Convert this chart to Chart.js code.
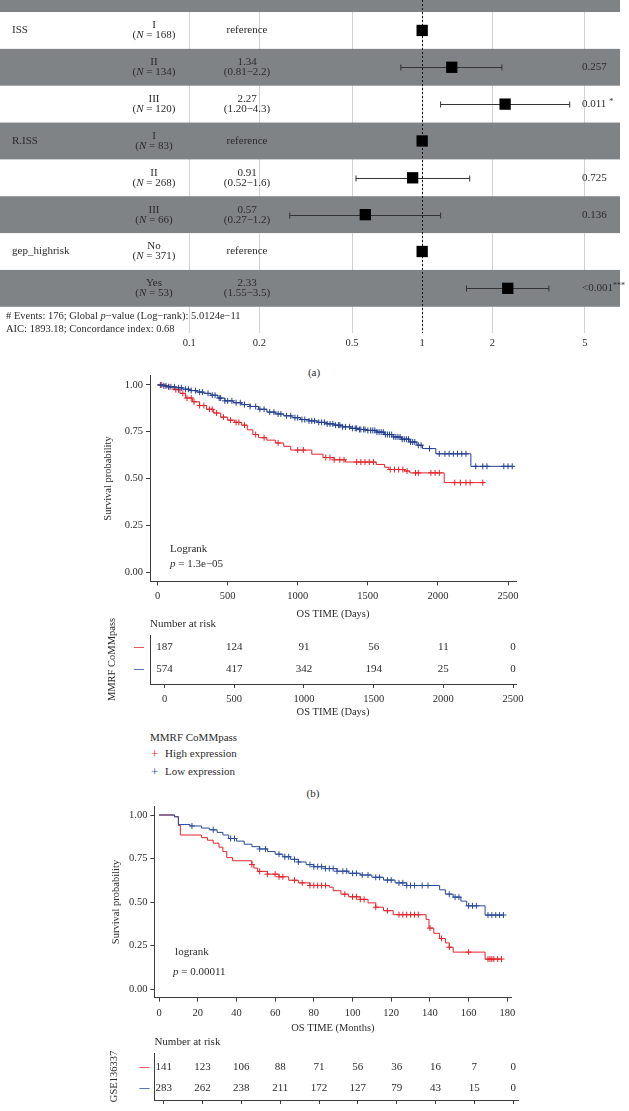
<!DOCTYPE html>
<html>
<head>
<meta charset="utf-8">
<script src="https://cdn.jsdelivr.net/npm/chart.js@4.4.0/dist/chart.umd.min.js"></script>
<style>
html, body { margin: 0; padding: 0; background: #fff; }
body { width: 629px; height: 1111px; position: relative; overflow: hidden;
       font-family: "Liberation Serif", "DejaVu Serif", serif; color: #2b2b2b; }
canvas { position: absolute; left: 0; }
.t { position: absolute; white-space: nowrap; font-size: 11px; line-height: 1; }
.c { transform: translate(-50%, -50%); }
.l { transform: translate(0, -50%); }
</style>
</head>
<body>
<canvas id="forest" width="629" height="360" style="top:0px"></canvas>
<div class="t c" style="left:314px;top:372px">(a)</div>

<canvas id="kmB" width="629" height="262" style="top:360px"></canvas>
<canvas id="riskB" width="629" height="106" style="top:614px"></canvas>
<div class="t l" style="left:150px;top:737px">MMRF CoMMpass</div>
<div class="t l" style="left:151px;top:753px;color:#e3232b;font-size:13px">+</div>
<div class="t l" style="left:165px;top:753px">High expression</div>
<div class="t l" style="left:151px;top:771px;color:#2a4b9b;font-size:13px">+</div>
<div class="t l" style="left:165px;top:771px">Low expression</div>
<div class="t c" style="left:313px;top:793px">(b)</div>

<canvas id="kmC" width="629" height="240" style="top:796px"></canvas>
<canvas id="riskC" width="629" height="109" style="top:1032px"></canvas>

<script>
// ---------- (a) forest plot ----------
const forestVars = ['ISS', '', '', 'R.ISS', '', '', 'gep_highrisk', ''];
const forestLevels = ['I', 'II', 'III', 'I', 'II', 'III', 'No', 'Yes'];
const forestN = [168, 134, 120, 83, 268, 66, 371, 53];
const forestHR = [1, 1.34, 2.27, 1, 0.91, 0.57, 1, 2.33];
const forestLo = [null, 0.81, 1.20, null, 0.52, 0.27, null, 1.55];
const forestHi = [null, 2.2, 4.3, null, 1.6, 1.2, null, 3.5];
const forestHRText = ['reference', '1.34', '2.27', 'reference', '0.91', '0.57', 'reference', '2.33'];
const forestCIText = ['', '(0.81\u22122.2)', '(1.20\u22124.3)', '', '(0.52\u22121.6)', '(0.27\u22121.2)', '', '(1.55\u22123.5)'];
const forestP = ['', '0.257', '0.011', '', '0.725', '0.136', '', '<0.001'];
const forestStars = ['', '', '*', '', '', '', '', '***'];
const forestTicks = [0.1, 0.2, 0.5, 1, 2, 5];

// ---------- (b) MMRF CoMMpass, days ----------
const bHighTime = [0, 60, 110, 160, 200, 250, 300, 350, 400, 450, 500, 550, 600, 640, 680, 720, 780, 840, 900, 950, 1100, 1180, 1260, 1340, 1560, 1620, 1650, 1760, 1800, 2045, 2325];
const bHighSurv = [1, 0.99, 0.975, 0.955, 0.93, 0.91, 0.89, 0.87, 0.85, 0.828, 0.812, 0.80, 0.785, 0.76, 0.735, 0.718, 0.705, 0.69, 0.672, 0.652, 0.63, 0.612, 0.60, 0.588, 0.575, 0.56, 0.548, 0.54, 0.53, 0.478, 0.478];
const bHighCens = [30, 80, 130, 150, 180, 210, 240, 260, 300, 330, 370, 390, 420, 470, 520, 560, 580, 620, 700, 760, 860, 1000, 1040, 1200, 1230, 1260, 1300, 1330, 1420, 1450, 1480, 1510, 1540, 1660, 1690, 1720, 1750, 1780, 1840, 1860, 1950, 1980, 2010, 2120, 2160, 2200, 2230, 2320];
const bLowTime = [0, 40, 80, 130, 180, 230, 280, 330, 380, 430, 480, 540, 600, 660, 720, 780, 840, 900, 960, 1020, 1080, 1140, 1200, 1260, 1320, 1380, 1440, 1500, 1560, 1620, 1680, 1740, 1800, 1850, 1890, 1985, 2235, 2530];
const bLowSurv = [1, 0.995, 0.99, 0.985, 0.977, 0.97, 0.962, 0.955, 0.945, 0.93, 0.915, 0.905, 0.895, 0.885, 0.87, 0.855, 0.845, 0.835, 0.825, 0.815, 0.808, 0.80, 0.792, 0.785, 0.776, 0.768, 0.762, 0.757, 0.748, 0.735, 0.722, 0.71, 0.695, 0.678, 0.66, 0.632, 0.565, 0.565];
const bLowCens = [20, 45, 60, 80, 95, 120, 150, 170, 200, 220, 240, 270, 300, 320, 360, 390, 410, 440, 450, 480, 500, 530, 560, 590, 620, 660, 700, 730, 760, 800, 830, 860, 880, 920, 950, 980, 1000, 1030, 1050, 1080, 1100, 1120, 1150, 1170, 1190, 1210, 1230, 1250, 1270, 1290, 1300, 1320, 1340, 1370, 1390, 1410, 1420, 1440, 1450, 1470, 1480, 1500, 1520, 1535, 1550, 1565, 1580, 1595, 1610, 1625, 1640, 1655, 1670, 1685, 1700, 1715, 1730, 1745, 1760, 1775, 1790, 1805, 1820, 1835, 1860, 1880, 1940, 2010, 2050, 2080, 2110, 2140, 2170, 2200, 2270, 2320, 2350, 2470, 2500, 2530];
const bTicks = [0, 500, 1000, 1500, 2000, 2500];
const bRiskHigh = [187, 124, 91, 56, 11, 0];
const bRiskLow = [574, 417, 342, 194, 25, 0];

// ---------- (c) GSE136337, months ----------
const cHighTime = [0, 8, 10, 11, 22, 25, 28, 31, 33, 35, 38, 48, 49, 51, 56, 62, 67, 72, 78, 88, 90, 94, 98, 104, 108, 112, 116, 121, 138, 139.5, 142, 145, 148, 150, 152, 168.5, 177];
const cHighSurv = [1, 0.99, 0.94, 0.885, 0.87, 0.855, 0.838, 0.815, 0.79, 0.755, 0.737, 0.715, 0.695, 0.676, 0.66, 0.645, 0.625, 0.61, 0.595, 0.585, 0.565, 0.545, 0.53, 0.515, 0.495, 0.47, 0.45, 0.427, 0.4, 0.35, 0.32, 0.29, 0.265, 0.24, 0.212, 0.172, 0.172];
const cHighCens = [48, 52, 56, 60, 62, 64, 70, 74, 78, 80, 82, 84, 86, 96, 100, 102, 104, 106, 112, 118, 124, 126, 128, 130, 132, 134, 140, 146, 150, 160, 170, 171, 172, 173, 175, 177];
const cLowTime = [0, 8, 10, 16, 22, 26, 30, 33, 36, 40, 44, 48, 52, 56, 60, 64, 68, 72, 76, 80, 86, 92, 98, 104, 110, 116, 122, 128, 145, 148, 152, 156, 159, 168.5, 178];
const cLowSurv = [1, 0.99, 0.945, 0.937, 0.925, 0.915, 0.9, 0.885, 0.865, 0.85, 0.832, 0.818, 0.805, 0.79, 0.775, 0.76, 0.745, 0.73, 0.715, 0.703, 0.692, 0.677, 0.665, 0.655, 0.642, 0.626, 0.61, 0.595, 0.57, 0.545, 0.528, 0.505, 0.478, 0.425, 0.425];
const cLowCens = [17, 28, 37, 39, 52, 55, 62, 65, 67, 70, 72, 78, 80, 82, 84, 86, 88, 90, 92, 95, 97, 100, 102, 105, 108, 112, 114, 118, 120, 124, 126, 128, 130, 132, 136, 139, 150, 153, 155, 160, 162, 164, 170, 172, 174, 176, 178];
const cTicks = [0, 20, 40, 60, 80, 100, 120, 140, 160, 180];
const cRiskHigh = [141, 123, 106, 88, 71, 56, 36, 16, 7, 0];
const cRiskLow = [283, 262, 238, 211, 172, 127, 79, 43, 15, 0];

const SERIF = '"Liberation Serif", "DejaVu Serif", serif';
const RED = '#e3232b';
const BLUE = '#2a4b9b';
const AXIS = '#3c3c3c';
const TXT = '#2b2b2b';
const BAND = '#808385';

Chart.defaults.font.family = SERIF;
Chart.defaults.color = TXT;
Chart.defaults.animation = false;
Chart.defaults.plugins.legend.display = false;
Chart.defaults.plugins.tooltip.enabled = false;

function font(size, italic) {
    return (italic ? 'italic ' : '') + size + 'px ' + SERIF;
}

// draw a line of text made of plain/italic parts
function drawRich(ctx, parts, x, y, size, align) {
    let total = 0;
    parts.forEach(p => {
        ctx.font = font(size, p.i);
        p.w = ctx.measureText(p.t).width;
        total += p.w;
    });
    let cx = align === 'center' ? x - total / 2 : x;
    ctx.textAlign = 'left';
    ctx.textBaseline = 'middle';
    parts.forEach(p => {
        ctx.font = font(size, p.i);
        ctx.fillText(p.t, cx, y);
        cx += p.w;
    });
}

function survAt(times, surv, t) {
    let s = surv[0];
    for (let i = 0; i < times.length; i++) {
        if (times[i] <= t) s = surv[i];
        else break;
    }
    return s;
}

// ---------- forest chart ----------
const forestPlugin = {
    id: 'forestRows',
    beforeDatasetsDraw(chart) {
        const { ctx, chartArea, scales: { x, y } } = chart;
        ctx.save();
        // alternating row bands
        for (let i = -1; i < forestLevels.length; i++) {
            if (i % 2 === 0) continue;
            const top = y.getPixelForValue(i - 0.5);
            const bot = y.getPixelForValue(i + 0.5);
            ctx.fillStyle = BAND;
            ctx.fillRect(0, top, 620, bot - top);
        }
        // reference line at HR = 1
        const x1 = Math.round(x.getPixelForValue(1)) + 0.5;
        ctx.strokeStyle = '#111';
        ctx.lineWidth = 1;
        ctx.setLineDash([2, 2]);
        ctx.beginPath();
        ctx.moveTo(x1, 0);
        ctx.lineTo(x1, chartArea.bottom);
        ctx.stroke();
        ctx.setLineDash([]);
        // confidence intervals
        ctx.strokeStyle = '#333';
        forestLo.forEach((lo, i) => {
            if (lo === null) return;
            const yc = Math.round(y.getPixelForValue(i)) + 0.5;
            const xa = x.getPixelForValue(lo), xb = x.getPixelForValue(forestHi[i]);
            ctx.beginPath();
            ctx.moveTo(xa, yc); ctx.lineTo(xb, yc);
            ctx.moveTo(xa, yc - 3); ctx.lineTo(xa, yc + 3);
            ctx.moveTo(xb, yc - 3); ctx.lineTo(xb, yc + 3);
            ctx.stroke();
        });
        ctx.restore();
    },
    afterDatasetsDraw(chart) {
        const { ctx, scales: { y } } = chart;
        ctx.save();
        ctx.fillStyle = TXT;
        forestLevels.forEach((lev, i) => {
            const yc = y.getPixelForValue(i);
            if (forestVars[i]) {
                drawRich(ctx, [{ t: forestVars[i] }], 12, yc, 11, 'left');
            }
            drawRich(ctx, [{ t: lev }], 154, yc - 5, 11, 'center');
            drawRich(ctx, [{ t: '(' }, { t: 'N', i: true }, { t: ' = ' + forestN[i] + ')' }], 154, yc + 5, 11, 'center');
            if (forestCIText[i]) {
                drawRich(ctx, [{ t: forestHRText[i] }], 247, yc - 5, 11, 'center');
                drawRich(ctx, [{ t: forestCIText[i] }], 247, yc + 5, 11, 'center');
            } else {
                drawRich(ctx, [{ t: forestHRText[i] }], 247, yc, 11, 'center');
            }
            if (forestP[i]) {
                ctx.font = font(11);
                const w = ctx.measureText(forestP[i]).width;
                drawRich(ctx, [{ t: forestP[i] }], 582, yc, 11, 'left');
                if (forestStars[i]) {
                    drawRich(ctx, [{ t: forestStars[i] }], 582 + w + (forestStars[i].length === 1 ? 3 : 0), yc - 2, 8, 'left');
                }
            }
        });
        drawRich(ctx, [{ t: '# Events: 176; Global ' }, { t: 'p', i: true }, { t: '\u2212value (Log\u2212rank): 5.0124e\u221211' }], 6, 316, 10.5, 'left');
        drawRich(ctx, [{ t: 'AIC: 1893.18; Concordance index: 0.68' }], 6, 329, 10.5, 'left');
        ctx.restore();
    }
};

new Chart(document.getElementById('forest'), {
    type: 'scatter',
    data: {
        datasets: [{
            data: forestHR.map((v, i) => ({ x: v, y: i })),
            pointStyle: 'rect',
            pointRadius: 8,
            backgroundColor: '#000',
            borderWidth: 0
        }]
    },
    options: {
        responsive: false,
        devicePixelRatio: 1,
        layout: { padding: 0 },
        scales: {
            x: {
                type: 'logarithmic',
                min: 0.01667,
                max: 7.139,
                afterBuildTicks: s => { s.ticks = forestTicks.map(v => ({ value: v })); },
                afterFit: s => { s.height = 27; },
                ticks: { callback: v => String(v), padding: 4, color: TXT, font: { size: 10.5 }, maxRotation: 0, autoSkip: false },
                grid: { color: '#d2d2d2', lineWidth: 1, drawTicks: false },
                border: { display: false }
            },
            y: {
                type: 'linear',
                display: false,
                reverse: true,
                min: -0.609,
                max: 8.212
            }
        }
    },
    plugins: [forestPlugin]
});

// ---------- Kaplan-Meier charts ----------
function noteplugin(lines) {
    return {
        id: 'kmNote',
        afterDatasetsDraw(chart) {
            const { ctx, scales: { x, y } } = chart;
            ctx.save();
            ctx.fillStyle = TXT;
            lines.forEach(l => drawRich(ctx, l.parts, x.getPixelForValue(l.x), y.getPixelForValue(l.y), 11, 'left'));
            ctx.restore();
        }
    };
}

function kmChart(id, cfg) {
    const groups = [
        { times: cfg.lowT, surv: cfg.lowS, cens: cfg.lowC, color: cfg.blue || BLUE },
        { times: cfg.highT, surv: cfg.highS, cens: cfg.highC, color: RED }
    ];
    const datasets = [];
    groups.forEach(g => {
        datasets.push({
            data: g.cens.map(t => ({ x: t, y: survAt(g.times, g.surv, t) })),
            showLine: false,
            pointStyle: 'cross',
            pointRadius: 3,
            borderColor: g.color,
            borderWidth: 1
        });
        datasets.push({
            data: g.times.map((t, i) => ({ x: t, y: g.surv[i] })),
            showLine: true,
            stepped: 'before',
            borderColor: g.color,
            borderWidth: 1,
            pointRadius: 0
        });
    });
    return new Chart(document.getElementById(id), {
        type: 'scatter',
        data: { datasets },
        options: {
            responsive: false,
            devicePixelRatio: 1,
            layout: { padding: cfg.padding },
            scales: {
                x: {
                    type: 'linear',
                    min: cfg.xMin,
                    max: cfg.xMax,
                    afterBuildTicks: s => { s.ticks = cfg.ticks.map(v => ({ value: v })); },
                    afterFit: s => { s.height = cfg.xHeight; },
                    ticks: { callback: v => String(v), padding: 5, color: TXT, font: { size: 10.5 }, maxRotation: 0, autoSkip: false },
                    grid: { drawOnChartArea: false, drawTicks: true, tickLength: 4, color: AXIS },
                    border: { display: true, color: AXIS, width: 1 },
                    title: { display: true, text: cfg.xTitle, color: TXT, font: { size: 10.5 }, padding: { top: 0, bottom: 1 } }
                },
                y: {
                    type: 'linear',
                    min: -0.05,
                    max: 1.05,
                    afterBuildTicks: s => { s.ticks = [0, 0.25, 0.5, 0.75, 1].map(v => ({ value: v })); },
                    afterFit: s => { s.width = cfg.yWidth; },
                    ticks: { callback: v => v.toFixed(2), padding: 3, color: TXT, font: { size: 10.5 } },
                    grid: { drawOnChartArea: false, drawTicks: true, tickLength: 4, color: AXIS },
                    border: { display: true, color: AXIS, width: 1 },
                    title: { display: true, text: 'Survival probability', color: TXT, font: { size: 10.5 }, padding: { top: cfg.yTitlePad, bottom: 0 } }
                }
            }
        },
        plugins: [noteplugin(cfg.notes)]
    });
}

kmChart('kmB', {
    highT: bHighTime, highS: bHighSurv, highC: bHighCens,
    lowT: bLowTime, lowS: bLowSurv, lowC: bLowCens, blue: '#233f90',
    ticks: bTicks, xMin: -54, xMax: 2557, xTitle: 'OS TIME (Days)',
    padding: { left: 100, right: 113, top: 15.6, bottom: 0 },
    xHeight: 40.6, yWidth: 50, yTitlePad: 2,
    notes: [
        { x: 89, y: 0.123, parts: [{ t: 'Logrank' }] },
        { x: 89, y: 0.04, parts: [{ t: 'p', i: true }, { t: ' = 1.3e\u221205' }] }
    ]
});

kmChart('kmC', {
    highT: cHighTime, highS: cHighSurv, highC: cHighCens,
    lowT: cLowTime, lowS: cLowSurv, lowC: cLowCens,
    ticks: cTicks, xMin: -2.4, xMax: 182.1, xTitle: 'OS TIME (Months)',
    padding: { left: 100, right: 117.6, top: 10.3, bottom: 0 },
    xHeight: 38.3, yWidth: 54.4, yTitlePad: 10,
    notes: [
        { x: 8.3, y: 0.213, parts: [{ t: 'logrank' }] },
        { x: 7.2, y: 0.098, parts: [{ t: 'p', i: true }, { t: ' = 0.00011' }] }
    ]
});

// ---------- risk tables ----------
function riskChart(id, cfg) {
    const riskPlugin = {
        id: 'riskNumbers',
        afterDraw(chart) {
            const { ctx, chartArea, scales: { x, y } } = chart;
            ctx.save();
            ctx.fillStyle = TXT;
            drawRich(ctx, [{ t: 'Number at risk' }], chartArea.left, 10, 11, 'left');
            cfg.ticks.forEach((t, i) => {
                const px = x.getPixelForValue(t);
                drawRich(ctx, [{ t: String(cfg.high[i]) }], px, y.getPixelForValue(2), 11, 'center');
                drawRich(ctx, [{ t: String(cfg.low[i]) }], px, y.getPixelForValue(1), 11, 'center');
            });
            ctx.restore();
        }
    };
    return new Chart(document.getElementById(id), {
        type: 'scatter',
        data: { datasets: [{ data: [] }] },
        options: {
            responsive: false,
            devicePixelRatio: 1,
            layout: { padding: cfg.padding },
            scales: {
                x: {
                    type: 'linear',
                    min: cfg.xMin,
                    max: cfg.xMax,
                    afterBuildTicks: s => { s.ticks = cfg.ticks.map(v => ({ value: v })); },
                    afterFit: s => { s.height = cfg.xHeight; },
                    ticks: { callback: v => String(v), padding: 5, color: TXT, font: { size: 10.5 }, maxRotation: 0, autoSkip: false },
                    grid: { drawOnChartArea: false, drawTicks: true, tickLength: 4, color: AXIS },
                    border: { display: true, color: AXIS, width: 1 },
                    title: { display: true, text: cfg.xTitle, color: TXT, font: { size: 10.5 }, padding: { top: 0, bottom: 1 } }
                },
                y: {
                    type: 'linear',
                    min: cfg.yMin,
                    max: cfg.yMax,
                    afterBuildTicks: s => { s.ticks = [1, 2].map(v => ({ value: v })); },
                    afterFit: s => { s.width = cfg.yWidth; },
                    ticks: {
                        callback: () => '\u2014',
                        padding: cfg.dashPad,
                        font: { size: 10, weight: 'bold' },
                        color: c => (c.tick && c.tick.value === 2 ? RED : BLUE)
                    },
                    grid: { display: false, drawTicks: false },
                    border: { display: true, color: AXIS, width: 1 },
                    title: { display: true, text: cfg.yTitle, color: TXT, font: { size: 10.5 }, padding: { top: cfg.yTitlePad, bottom: 0 } }
                }
            }
        },
        plugins: [riskPlugin]
    });
}

riskChart('riskB', {
    ticks: bTicks, high: bRiskHigh, low: bRiskLow,
    xMin: -104, xMax: 2521, xTitle: 'OS TIME (Days)', yTitle: 'MMRF CoMMpass',
    yMin: 0.318, yMax: 2.545,
    padding: { left: 100, right: 113, top: 21, bottom: 0 },
    xHeight: 36, yWidth: 50, yTitlePad: 6, dashPad: 6
});

riskChart('riskC', {
    ticks: cTicks, high: cRiskHigh, low: cRiskLow,
    xMin: -4.8, xMax: 182.5, xTitle: 'OS TIME (Months)', yTitle: 'GSE136337',
    yMin: 0.4286, yMax: 2.667,
    padding: { left: 100, right: 111, top: 21, bottom: 0 },
    xHeight: 41, yWidth: 54.4, yTitlePad: 8, dashPad: 5
});
</script>
</body>
</html>
